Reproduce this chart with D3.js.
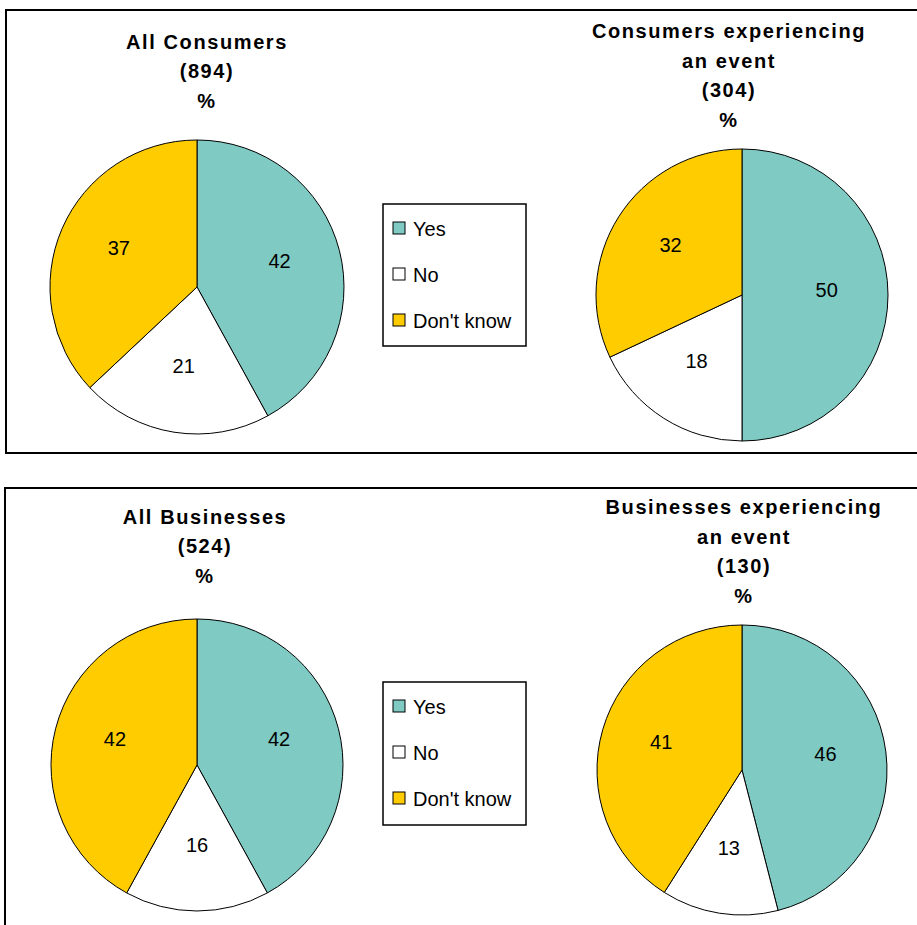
<!DOCTYPE html>
<html>
<head>
<meta charset="utf-8">
<script src="https://cdn.jsdelivr.net/npm/d3@7"></script>
<style>
  html, body { margin: 0; padding: 0; background: #fff; }
  svg { display: block; font-family: "Liberation Sans", Arial, sans-serif; }
</style>
</head>
<body>
<svg id="chart" width="917" height="925"></svg>
<script>
// ---- Data ----
const categories = ["Yes", "No", "Don't know"];
const allConsumers = [42, 21, 37];
const consumersEvent = [50, 18, 32];
const allBusinesses = [42, 16, 42];
const businessesEvent = [46, 13, 41];
const titleAllConsumers = ["All Consumers", "(894)", "%"];
const titleConsumersEvent = ["Consumers experiencing", "an event", "(304)", "%"];
const titleAllBusinesses = ["All Businesses", "(524)", "%"];
const titleBusinessesEvent = ["Businesses experiencing", "an event", "(130)", "%"];

// ---- Styles / layout ----
const colors = ["#7FCBC4", "#FFFFFF", "#FFCC00"];
const color = d3.scaleOrdinal().domain(categories).range(colors);

const charts = [
  { values: allConsumers,    title: titleAllConsumers,    cx: 197, cy: 287, r: 147, tx: 207, lastBase: 108 },
  { values: consumersEvent,  title: titleConsumersEvent,  cx: 742, cy: 295, r: 146, tx: 729, lastBase: 127 },
  { values: allBusinesses,   title: titleAllBusinesses,   cx: 197, cy: 765, r: 146, tx: 205, lastBase: 583 },
  { values: businessesEvent, title: titleBusinessesEvent, cx: 742, cy: 770, r: 145, tx: 744, lastBase: 603 }
];
const panels = [
  { x: 6, y: 10, w: 930, h: 443 },
  { x: 5, y: 488, w: 930, h: 460 }
];
const legends = [
  { x: 383, y: 204, w: 143, h: 142 },
  { x: 383, y: 682, w: 143, h: 143 }
];

const svg = d3.select("#chart");

// Panels
svg.selectAll("rect.panel").data(panels).join("rect")
  .attr("class", "panel")
  .attr("x", d => d.x).attr("y", d => d.y)
  .attr("width", d => d.w).attr("height", d => d.h)
  .attr("fill", "none").attr("stroke", "#000").attr("stroke-width", 2);

const pie = d3.pie().sort(null).value(d => d);

charts.forEach(c => {
  const g = svg.append("g").attr("transform", `translate(${c.cx},${c.cy})`);
  const arc = d3.arc().innerRadius(0).outerRadius(c.r);
  const labelArc = d3.arc().innerRadius(c.r * 0.58).outerRadius(c.r * 0.58);
  const arcs = pie(c.values);

  g.selectAll("path").data(arcs).join("path")
    .attr("d", arc)
    .attr("fill", (d, i) => color(categories[i]))
    .attr("stroke", "#000")
    .attr("stroke-width", 1);

  g.selectAll("text.lbl").data(arcs).join("text")
    .attr("class", "lbl")
    .attr("transform", d => `translate(${labelArc.centroid(d)})`)
    .attr("text-anchor", "middle")
    .attr("dy", "0.1em")
    .attr("font-size", 20)
    .attr("fill", "#000")
    .text(d => d.data);

  // Title
  const n = c.title.length;
  svg.append("g").selectAll("text").data(c.title).join("text")
    .attr("x", c.tx)
    .attr("y", (d, i) => c.lastBase - (n - 1 - i) * 29.7)
    .attr("text-anchor", "middle")
    .attr("font-size", 20)
    .attr("font-weight", "bold")
    .attr("letter-spacing", "1.6px")
    .attr("fill", "#000")
    .text(d => d);
});

// Legends
legends.forEach(L => {
  const g = svg.append("g").attr("transform", `translate(${L.x},${L.y})`);
  g.append("rect")
    .attr("width", L.w).attr("height", L.h)
    .attr("fill", "#fff").attr("stroke", "#000").attr("stroke-width", 1.5);
  const item = g.selectAll("g.item").data(categories).join("g")
    .attr("class", "item")
    .attr("transform", (d, i) => `translate(10,${25 + i * 46})`);
  item.append("rect")
    .attr("x", 0).attr("y", -7)
    .attr("width", 12).attr("height", 12)
    .attr("fill", d => color(d))
    .attr("stroke", "#000").attr("stroke-width", 1);
  item.append("text")
    .attr("x", 20).attr("y", 0)
    .attr("dy", "0.36em")
    .attr("font-size", 20)
    .attr("fill", "#000")
    .text(d => d);
});
</script>
</body>
</html>
